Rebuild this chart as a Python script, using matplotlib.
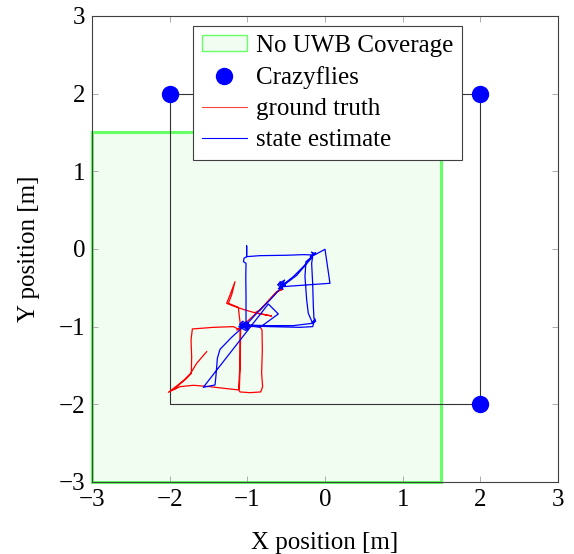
import matplotlib.pyplot as plt
from matplotlib.patches import Rectangle
from matplotlib.lines import Line2D

plt.rcParams['font.family'] = ['Liberation Serif', 'DejaVu Serif']
plt.rcParams['font.size'] = 18

# anchors (Crazyflies) and the square they span
anchor_x = [-2, 2, 2]
anchor_y = [2, 2, -2]
square_x = [-2, -2, 2, 2, -2]
square_y = [2, -2, -2, 2, 2]

# region without UWB coverage
nocov_x0, nocov_y0 = -3.0, -3.0
nocov_w, nocov_h = 4.5, 4.5

# ground truth trajectory
truth_x = [-1.524, -1.652, -1.730, -1.824, -1.910, -2.017, -1.867, -1.695, -1.481, -1.266,
           -1.112, -1.094, -0.966, -0.828, -0.803, -0.816, -0.807, -0.811, -0.845, -1.051,
           -1.137, -1.073, -0.944, -0.837, -0.708, -0.601, -0.545, -0.622, -0.837, -0.901,
           -0.687, -0.880, -1.030, -1.159, -1.266, -1.215, -1.159, -1.202, -1.245, -1.116,
           -1.103, -1.086, -1.090, -1.094, -1.103, -1.112, -1.094, -1.094, -1.180, -1.438,
           -1.708, -1.725, -1.717, -1.721, -1.781, -1.858, -1.931]
truth_y = [-1.322, -1.472, -1.601, -1.695, -1.764, -1.845, -1.773, -1.755, -1.773, -1.798,
           -1.815, -1.841, -1.850, -1.841, -1.773, -1.601, -1.300, -1.043, -0.991, -1.009,
           -1.043, -1.000, -0.880, -0.785, -0.648, -0.541, -0.519, -0.549, -0.785, -0.820,
           -0.863, -0.828, -0.785, -0.742, -0.700, -0.571, -0.421, -0.592, -0.700, -0.751,
           -0.871, -1.000, -1.300, -1.558, -1.807, -1.794, -1.472, -1.043, -1.000, -1.009,
           -1.030, -1.172, -1.386, -1.601, -1.665, -1.730, -1.798]

# state estimate trajectory
est_x = [-1.030, -1.051, -1.202, -1.352, -1.386, -1.403, -1.416, -1.567, -0.730, -0.601,
         -0.837, -0.966, -1.000, -1.070, -1.010, -1.090, -0.990, -1.050, -1.110, -1.020,
         -0.980, -1.060, -1.100, -0.990, -1.070, -1.040, -1.017, -1.017,
         -1.020, -1.017, -1.050, -1.043, -1.009, -1.009, -1.009, -0.837, -0.494, -0.279,
         -0.159, -0.120, -0.190, -0.130, -0.175, -0.140, 0.000, 0.064, -0.236, -0.537,
         -0.580, -0.510, -0.600, -0.500, -0.570, -0.520, -0.610, -0.540, -0.590, -0.510,
         -0.560, -0.545,
         -0.408, -0.279, -0.159, -0.193, -0.245, -0.258,
         -0.236, -0.215, -0.159, -0.408, -0.751, -1.017, -0.880, -0.708, -0.545, -0.365,
         -0.159, -0.172, -0.159, -0.150, -0.142, -0.120, -0.170, -0.130, -0.159, -0.322,
         -0.708, -1.000]
est_y = [-0.991, -1.000, -1.137, -1.292, -1.408, -1.622, -1.751, -1.781, -0.708, -0.837,
         -1.009, -0.991, -0.950, -1.020, -0.940, -0.990, -1.040, -0.960, -1.000, -1.050,
         -0.990, -0.930, -0.970, -1.020, -0.950, -1.010, -0.957, -0.614,
         -0.360, -0.185, -0.163, -0.120, -0.099, 0.039, -0.099, -0.086, -0.081, -0.073,
         -0.077, -0.050, -0.100, -0.060, -0.040, -0.080, -0.004, -0.442, -0.463, -0.485,
         -0.420, -0.470, -0.510, -0.430, -0.500, -0.400, -0.460, -0.520, -0.440, -0.480,
         -0.450, -0.463,
         -0.356, -0.227, -0.090, -0.120, -0.163, -0.356,
         -0.657, -0.828, -0.957, -0.987, -0.987, -0.979, -0.828, -0.657, -0.476, -0.340,
         -0.099, -0.185, -0.442, -0.742, -0.893, -0.930, -0.960, -0.900, -1.000, -1.009,
         -1.000, -0.991]

ticks = [-3, -2, -1, 0, 1, 2, 3]

fig = plt.figure(figsize=(5.74, 5.54), dpi=100)
ax = fig.add_axes([0.1603, 0.13, 0.8118, 0.8412])

ax.add_patch(Rectangle((nocov_x0, nocov_y0), nocov_w, nocov_h, facecolor='#f2fdf2',
                       edgecolor='#66ff66', linewidth=2.2, zorder=1, clip_on=False))
ax.plot(square_x, square_y, color='#333333', linewidth=0.8, zorder=2)
ax.plot(truth_x, truth_y, color='#ff0000', linewidth=0.9, zorder=3)
ax.plot(est_x, est_y, color='#0000ff', linewidth=0.9, zorder=3)
ax.plot(anchor_x, anchor_y, 'o', color='#0000ff', markersize=11.5, linestyle='none',
        zorder=4)

ax.set_xlim(-3, 3)
ax.set_ylim(-3, 3)
ax.set_xticks(ticks)
ax.set_yticks(ticks)
ax.set_xticklabels([str(t).replace('-', '\u2212') for t in ticks])
ax.set_yticklabels([str(t).replace('-', '\u2212') for t in ticks])
ax.tick_params(direction='in', top=True, right=True, length=4, width=0.6,
               color='#a0a0a0', labelsize=18, pad=5)
for s in ax.spines.values():
    s.set_color('#404040')
    s.set_linewidth(0.8)

ax.set_xlabel('X position [m]', fontsize=18, labelpad=15)
ax.set_ylabel('Y position [m]', fontsize=18, labelpad=13)

handles = [
    Rectangle((0, 0), 1, 1, facecolor='#f2fdf2', edgecolor='#66ff66', linewidth=1.0),
    Line2D([], [], marker='o', color='#0000ff', markersize=11.5, linestyle='none'),
    Line2D([], [], color='#ff4444', linewidth=0.8),
    Line2D([], [], color='#0000ff', linewidth=0.8),
]
labels = ['No UWB Coverage', 'Crazyflies', 'ground truth', 'state estimate']
leg = ax.legend(handles, labels, loc='upper left', bbox_to_anchor=(0.217, 0.978),
                fontsize=18, fancybox=False, framealpha=1, edgecolor='#404040',
                borderpad=0.35, labelspacing=0.36, handlelength=1.8, handleheight=0.6,
                handletextpad=0.35, borderaxespad=0)
leg.get_frame().set_linewidth(0.8)
leg.set_zorder(10)

fig.savefig('out.png', dpi=100)
